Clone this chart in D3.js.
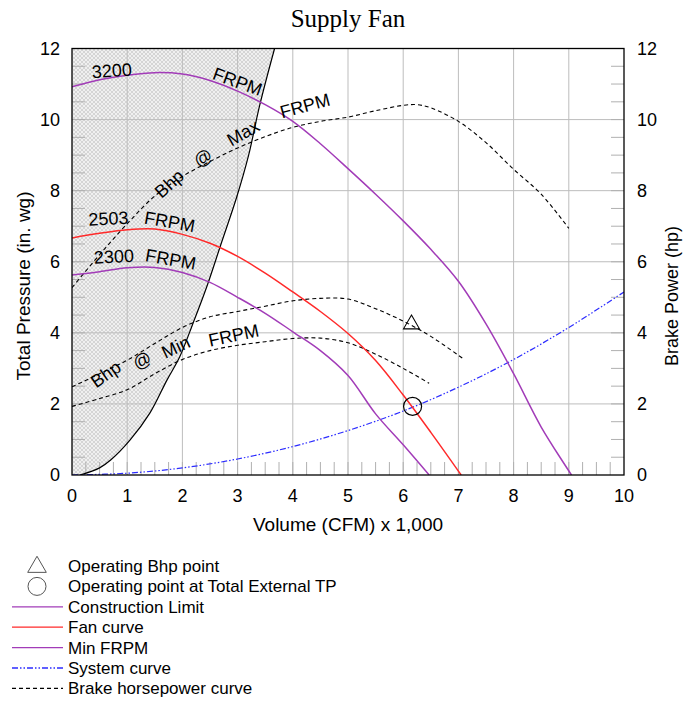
<!DOCTYPE html>
<html>
<head>
<meta charset="utf-8">
<script src="https://cdn.jsdelivr.net/npm/d3@7"></script>
<style>
  body { margin: 0; background: #fff; }
  text { font-family: "Liberation Sans", Arial, sans-serif; fill: #000; }
</style>
</head>
<body>
<svg id="chart"></svg>
<script>
// tick labels
const xTicks = [0, 1, 2, 3, 4, 5, 6, 7, 8, 9, 10];
const yTicks = [0, 2, 4, 6, 8, 10, 12];

// fan curves: [CFM x1000, in. wg]
const curve3200 = [[0, 10.92], [0.5, 11.12], [1, 11.25], [1.5, 11.32], [2, 11.28], [2.5, 11.1], [3, 10.8],
  [3.5, 10.42], [4, 9.95], [4.5, 9.32], [5, 8.62], [5.5, 7.9], [6, 7.15], [6.5, 6.35], [7, 5.45],
  [7.5, 4.25], [8, 2.85], [8.5, 1.35], [9.05, 0]];
const curve2503 = [[0, 6.67], [0.5, 6.8], [1, 6.9], [1.5, 6.92], [2, 6.77], [2.5, 6.52], [3, 6.15],
  [3.5, 5.68], [4, 5.15], [4.5, 4.6], [5, 3.98], [5.5, 3.22], [6, 2.25], [6.5, 1.2], [7.05, 0]];
const curve2300 = [[0, 5.63], [0.5, 5.72], [1, 5.83], [1.5, 5.84], [2, 5.7], [2.5, 5.42], [3, 5.0],
  [3.5, 4.55], [4, 4.03], [4.5, 3.5], [5, 2.8], [5.5, 1.72], [6, 0.85], [6.47, 0]];

// construction limit boundary (hatched side is to the left)
const limitCurve = [[0.15, 0], [0.5, 0.2], [0.7, 0.42], [1.05, 0.98], [1.41, 1.74], [1.72, 2.67],
  [1.95, 3.32], [2.2, 4.3], [2.44, 5.29], [2.7, 6.5], [2.98, 7.8], [3.2, 9.0], [3.4, 10.4], [3.67, 12]];

// brake horsepower curves: [CFM x1000, hp]
const bhpMax = [[0, 5.27], [0.5, 6.2], [1, 7.07], [1.5, 7.85], [2, 8.4], [2.5, 8.82], [3, 9.2],
  [3.5, 9.52], [4, 9.78], [4.5, 9.95], [5, 10.07], [5.5, 10.25], [6, 10.4], [6.25, 10.42],
  [6.5, 10.33], [7, 9.95], [7.5, 9.35], [8, 8.6], [8.5, 7.9], [9, 6.94]];
const bhpFan = [[0, 2.48], [0.5, 2.85], [1, 3.23], [1.5, 3.7], [2, 4.15], [2.5, 4.45], [3, 4.6],
  [3.5, 4.75], [4, 4.9], [4.5, 4.97], [5, 4.95], [5.5, 4.68], [6, 4.33], [6.5, 3.9], [7.07, 3.29]];
const bhpMin = [[0, 1.93], [0.5, 2.15], [1, 2.4], [1.5, 2.85], [2, 3.25], [2.5, 3.5], [3, 3.65],
  [3.5, 3.75], [4, 3.84], [4.5, 3.85], [5, 3.72], [5.5, 3.4], [6, 3.0], [6.47, 2.58]];

// system curve
const systemCurve = [[0, 0], [1, 0.05], [2, 0.2], [3, 0.45], [4, 0.8], [5, 1.25], [6, 1.8],
  [7, 2.47], [8, 3.25], [9, 4.15], [10, 5.15]];

// operating points
const opBhp = [6.15, 4.27];
const opPoint = [6.17, 1.93];

// curve labels: word, x, y (data units), angle
const curveLabels = [
  ["3200", 0.72, 11.38, -4], ["FRPM", 3.0, 11.07, 20],
  ["Bhp", 1.76, 8.2, -42], ["@", 2.37, 8.93, -35], ["Max", 3.1, 9.63, -30], ["FRPM", 4.22, 10.39, -15],
  ["2503", 0.66, 7.22, -3], ["FRPM", 1.77, 7.13, 10],
  ["2300", 0.76, 6.15, -3], ["FRPM", 1.79, 6.07, 10],
  ["Bhp", 0.61, 2.84, -35], ["@", 1.27, 3.23, -30], ["Min", 1.88, 3.6, -25], ["FRPM", 2.93, 3.93, -12]
];

const legendItems = [
  { label: "Operating Bhp point", type: "triangle" },
  { label: "Operating point at Total External TP", type: "circle" },
  { label: "Construction Limit", type: "line", color: "#a23cb8", dash: null },
  { label: "Fan curve", type: "line", color: "#ff2a2a", dash: null },
  { label: "Min FRPM", type: "line", color: "#a23cb8", dash: null },
  { label: "System curve", type: "line", color: "#2c2cff", dash: "6,2,1.5,2,1.5,2" },
  { label: "Brake horsepower curve", type: "line", color: "#000", dash: "4,3" }
];

const W = 683, H = 702;
const plot = { left: 72, right: 624, top: 48.5, bottom: 475 };

const svg = d3.select("#chart").attr("width", W).attr("height", H);
svg.append("rect").attr("width", W).attr("height", H).attr("fill", "#fff");

const x = d3.scaleLinear().domain([0, 10]).range([plot.left, plot.right]);
const y = d3.scaleLinear().domain([0, 12]).range([plot.bottom, plot.top]);

const defs = svg.append("defs");
const pat = defs.append("pattern").attr("id", "hatch").attr("patternUnits", "userSpaceOnUse")
  .attr("width", 4).attr("height", 4);
pat.append("rect").attr("width", 4).attr("height", 4).attr("fill", "#f0f0f0");
pat.append("path").attr("d", "M0,0L4,4M4,0L0,4").attr("stroke", "#cacaca").attr("stroke-width", 0.7);

defs.append("clipPath").attr("id", "clip").append("rect")
  .attr("x", plot.left).attr("y", plot.top)
  .attr("width", plot.right - plot.left).attr("height", plot.bottom - plot.top);

// title
svg.append("text").attr("x", 348).attr("y", 27).attr("text-anchor", "middle")
  .style("font-family", "'Liberation Serif', 'Times New Roman', serif").style("font-size", "25px")
  .text("Supply Fan");

const line = d3.line().x((d) => x(d[0])).y((d) => y(d[1])).curve(d3.curveCatmullRom);

// hatched construction zone
svg.append("path")
  .attr("d", line(limitCurve) + `L${x(0)},${y(12)}L${x(0)},${y(0)}Z`)
  .attr("fill", "url(#hatch)").attr("clip-path", "url(#clip)");

// grid
const grid = svg.append("g").attr("stroke", "#bdbdbd").attr("stroke-width", 1);
grid.selectAll(".gx").data(xTicks.slice(1, -1)).enter().append("line")
  .attr("x1", (d) => x(d)).attr("x2", (d) => x(d)).attr("y1", plot.top).attr("y2", plot.bottom);
grid.selectAll(".gy").data(yTicks.slice(1, -1)).enter().append("line")
  .attr("y1", (d) => y(d)).attr("y2", (d) => y(d)).attr("x1", plot.left).attr("x2", plot.right);

// minor ticks
const minorX = d3.range(1, 40).map((i) => i * 0.25);
const minorY = d3.range(1, 24).map((i) => i * 0.5);
const ticks = svg.append("g").attr("stroke", "#b0b0b0").attr("stroke-width", 1);
ticks.selectAll(".tb").data(minorX).enter().append("line")
  .attr("x1", (d) => x(d)).attr("x2", (d) => x(d)).attr("y1", plot.bottom).attr("y2", plot.bottom - 13);
ticks.selectAll(".tl").data(minorY).enter().append("line")
  .attr("y1", (d) => y(d)).attr("y2", (d) => y(d)).attr("x1", plot.left).attr("x2", plot.left + 13);
ticks.selectAll(".tr").data(minorY).enter().append("line")
  .attr("y1", (d) => y(d)).attr("y2", (d) => y(d)).attr("x1", plot.right).attr("x2", plot.right - 13);

const curves = svg.append("g").attr("clip-path", "url(#clip)").attr("fill", "none");

curves.append("path").attr("d", line(systemCurve))
  .attr("stroke", "#2c2cff").attr("stroke-width", 1.2).attr("stroke-dasharray", "6,2,1.5,2,1.5,2");

[bhpMax, bhpFan, bhpMin].forEach((c) => {
  curves.append("path").attr("d", line(c))
    .attr("stroke", "#000").attr("stroke-width", 1.1).attr("stroke-dasharray", "4,3");
});

curves.append("path").attr("d", line(limitCurve)).attr("stroke", "#000").attr("stroke-width", 1.2);
curves.append("path").attr("d", line(curve3200)).attr("stroke", "#a23cb8").attr("stroke-width", 1.5);
curves.append("path").attr("d", line(curve2300)).attr("stroke", "#a23cb8").attr("stroke-width", 1.5);
curves.append("path").attr("d", line(curve2503)).attr("stroke", "#ff2a2a").attr("stroke-width", 1.5);

// operating markers
const tri = d3.symbol().type(d3.symbolTriangle).size(110);
svg.append("path").attr("d", tri()).attr("transform", `translate(${x(opBhp[0])},${y(opBhp[1]) + 1})`)
  .attr("fill", "none").attr("stroke", "#000").attr("stroke-width", 1.1);
svg.append("circle").attr("cx", x(opPoint[0])).attr("cy", y(opPoint[1])).attr("r", 9)
  .attr("fill", "none").attr("stroke", "#000").attr("stroke-width", 1.2);

// curve labels
svg.append("g").selectAll("text").data(curveLabels).enter().append("text")
  .attr("transform", (d) => `translate(${x(d[1])},${y(d[2])}) rotate(${d[3]})`)
  .attr("text-anchor", "middle").attr("dy", "0.35em").style("font-size", "18px")
  .text((d) => d[0]);

// frame
svg.append("rect").attr("x", plot.left).attr("y", plot.top)
  .attr("width", plot.right - plot.left).attr("height", plot.bottom - plot.top)
  .attr("fill", "none").attr("stroke", "#000").attr("stroke-width", 1.3);

// axes labels
const axisFont = "18px";
svg.append("g").selectAll("text").data(xTicks).enter().append("text")
  .attr("x", (d) => x(d)).attr("y", plot.bottom + 27).attr("text-anchor", "middle")
  .style("font-size", axisFont).text((d) => d);
svg.append("g").selectAll("text").data(yTicks).enter().append("text")
  .attr("x", plot.left - 12).attr("y", (d) => y(d)).attr("dy", "0.35em").attr("text-anchor", "end")
  .style("font-size", axisFont).text((d) => d);
svg.append("g").selectAll("text").data(yTicks).enter().append("text")
  .attr("x", plot.right + 13).attr("y", (d) => y(d)).attr("dy", "0.35em").attr("text-anchor", "start")
  .style("font-size", axisFont).text((d) => d);

svg.append("text").attr("x", 348).attr("y", 531).attr("text-anchor", "middle")
  .style("font-size", "19px").text("Volume (CFM) x 1,000");
svg.append("text").attr("transform", "translate(30,286) rotate(-90)").attr("text-anchor", "middle")
  .style("font-size", "19px").text("Total Pressure (in. wg)");
svg.append("text").attr("transform", "translate(678,296) rotate(-90)").attr("text-anchor", "middle")
  .style("font-size", "18px").text("Brake Power (hp)");

// legend
const legend = svg.append("g").attr("transform", "translate(0,566)");
const rowH = 20.4;
legendItems.forEach((d, i) => {
  const cy = i * rowH;
  if (d.type === "triangle") {
    legend.append("path").attr("d", d3.symbol().type(d3.symbolTriangle).size(150)())
      .attr("transform", `translate(37,${cy + 1})`)
      .attr("fill", "none").attr("stroke", "#555").attr("stroke-width", 1);
  } else if (d.type === "circle") {
    legend.append("circle").attr("cx", 37).attr("cy", cy).attr("r", 9)
      .attr("fill", "none").attr("stroke", "#555").attr("stroke-width", 1);
  } else {
    legend.append("line").attr("x1", 12).attr("x2", 63).attr("y1", cy).attr("y2", cy)
      .attr("stroke", d.color).attr("stroke-width", 1.3).attr("stroke-dasharray", d.dash);
  }
  legend.append("text").attr("x", 68).attr("y", cy).attr("dy", "0.35em")
    .style("font-size", "17px").text(d.label);
});
</script>
</body>
</html>
